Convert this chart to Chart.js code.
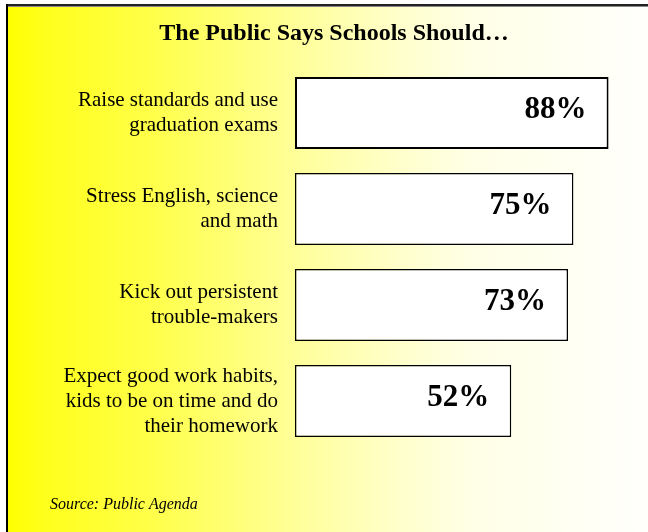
<!DOCTYPE html>
<html>
<head>
<meta charset="utf-8">
<script src="https://cdn.jsdelivr.net/npm/chart.js@4/dist/chart.umd.min.js"></script>
<style>
  html, body { margin: 0; padding: 0; background: #ffffff; }
  #wrap { width: 648px; height: 532px; }
</style>
</head>
<body>
<div id="wrap"><canvas id="c" width="648" height="532"></canvas></div>
<script>
const titleText = "The Public Says Schools Should\u2026";
const sourceText = "Source: Public Agenda";
const categories = [
  ["Raise standards and use", "graduation exams"],
  ["Stress English, science", "and math"],
  ["Kick out persistent", "trouble-makers"],
  ["Expect good work habits,", "kids to be on time and do", "their homework"]
];
const values = [88, 75, 73, 52];
const valueLabels = ["88%", "75%", "73%", "52%"];

const serif = "'Liberation Serif', 'Times New Roman', serif";

const backgroundPlugin = {
  id: 'bg',
  beforeDraw(chart) {
    const ctx = chart.ctx;
    const w = chart.width, h = chart.height;
    ctx.save();
    ctx.fillStyle = '#ffffff';
    ctx.fillRect(0, 0, w, h);
    const g = ctx.createLinearGradient(8, 0, w, 0);
    g.addColorStop(0.0, '#FFFF00');
    g.addColorStop(0.05, '#FFFF1A');
    g.addColorStop(0.22, '#FFFF48');
    g.addColorStop(0.45, '#FFFF99');
    g.addColorStop(0.6, '#FFFFC8');
    g.addColorStop(0.72, '#FFFFE6');
    g.addColorStop(1.0, '#FFFFFC');
    ctx.fillStyle = g;
    ctx.fillRect(8, 6, w - 8, h - 6);
    ctx.fillStyle = '#222222';
    ctx.fillRect(6, 4, w - 6, 2);
    ctx.fillStyle = '#888888';
    ctx.fillRect(8, 6, w - 8, 1);
    ctx.fillStyle = '#000000';
    ctx.fillRect(6, 4, 2, h - 4);
    ctx.restore();
  }
};

const labelPlugin = {
  id: 'vlabels',
  afterDatasetsDraw(chart) {
    const ctx = chart.ctx;
    const meta = chart.getDatasetMeta(0);
    ctx.save();
    ctx.fillStyle = '#000000';
    ctx.font = "bold 31px " + serif;
    ctx.textAlign = 'right';
    ctx.textBaseline = 'alphabetic';
    meta.data.forEach((bar, i) => {
      ctx.fillText(valueLabels[i], bar.x - 22, bar.y + 5);
    });
    ctx.font = "italic 16px " + serif;
    ctx.textAlign = 'left';
    ctx.fillText(sourceText, 50, 509);
    ctx.restore();
  }
};

new Chart(document.getElementById('c'), {
  type: 'bar',
  data: {
    labels: categories,
    datasets: [{
      data: values,
      base: -28,
      backgroundColor: '#ffffff',
      borderColor: '#000000',
      borderWidth: [2, 1.5, 1.5, 1.5],
      borderSkipped: false,
      categoryPercentage: 1.0,
      barPercentage: 0.75
    }]
  },
  options: {
    indexAxis: 'y',
    responsive: false,
    animation: false,
    devicePixelRatio: 1,
    layout: { padding: { left: 27, right: 7, top: 0, bottom: 83 } },
    plugins: {
      legend: { display: false },
      tooltip: { enabled: false },
      title: {
        display: true,
        text: titleText,
        color: '#000000',
        font: { family: serif, size: 24, weight: 'bold', lineHeight: 1.2 },
        padding: { top: 19, bottom: 17.2 }
      }
    },
    scales: {
      x: {
        display: false,
        min: -28,
        max: 100
      },
      y: {
        grid: { display: false, drawTicks: false },
        border: { display: false },
        ticks: {
          color: '#000000',
          padding: 17,
          font: { family: serif, size: 21, lineHeight: 1.19 }
        },
        afterFit(scale) { scale.width = 268; }
      }
    }
  },
  plugins: [backgroundPlugin, labelPlugin]
});
</script>
</body>
</html>
